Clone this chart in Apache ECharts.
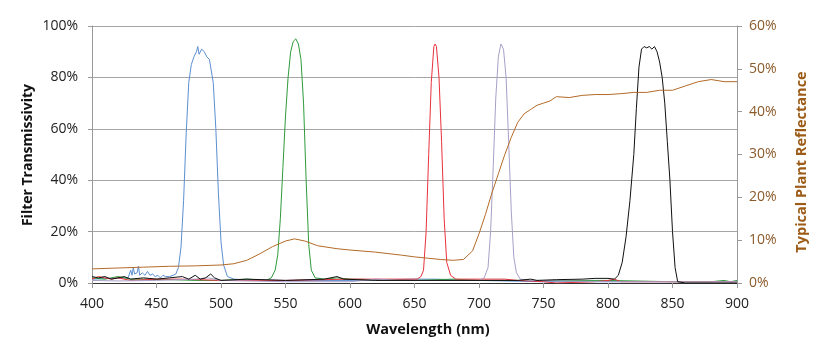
<!DOCTYPE html>
<html><head><meta charset="utf-8">
<script src="https://cdn.jsdelivr.net/npm/echarts@6/dist/echarts.min.js"></script>
<style>html,body{margin:0;padding:0;background:#fff}#c{width:840px;height:357px}</style>
</head><body><div id="c"></div>
<script>
const xTicks = [400,450,500,550,600,650,700,750,800,850,900];
const leftTicks = ['0%','20%','40%','60%','80%','100%'];
const rightTicks = ['0%','10%','20%','30%','40%','50%','60%'];

const blueFilter = [[400,1.5],[428,2],[430,5],[431,3],[432,6],[433,3.5],[435,4],[436,6.5],[437,3],[439,4],[441,3],[443,4.5],[445,3],[447,3.5],[449,2.5],[451,3],[453,2],[455,3],[457,2.5],[460,2.5],[463,3],[465,3.5],[467,6],[469,14],[471,32],[473,58],[475,78],[477,85],[479,88],[481,90],[482,92],[483,89],[485,91],[487,90],[489,88],[491,87],[492,84],[494,78],[496,60],[498,35],[500,16],[502,7],[505,2.5],[510,1.5],[520,1.2],[550,1],[600,1],[650,1.5],[665,1.5],[700,1],[750,0.5],[800,0.5],[900,0.5]];
const greenFilter = [[400,2],[410,1.5],[420,2.5],[430,1.5],[450,1.5],[480,1],[500,1],[520,1.5],[535,1],[539,2],[542,5],[544,11],[546,25],[548,45],[550,65],[552,80],[554,90],[556,94],[558,95],[560,93],[562,87],[564,70],[566,40],[568,15],[570,5],[573,2],[580,1.5],[590,2],[600,1.5],[650,1],[680,1.5],[700,1],[800,1],[850,0.5],[880,0.5],[890,1],[895,0.5],[900,1]];
const redFilter = [[400,1.5],[405,2.5],[410,2],[415,1.5],[420,2],[430,1],[450,1.5],[470,1.5],[500,1],[550,1],[600,1.5],[640,1.5],[652,1.5],[655,2.5],[657,5],[659,20],[661,50],[663,78],[665,92],[666,93],[667,92],[669,80],[671,55],[673,25],[675,8],[678,3],[682,1.5],[700,1.5],[720,1.5],[730,1],[750,0.5],[760,0],[790,0.5],[800,1],[805,1.5],[810,0.5],[900,0.5]];
const lavenderFilter = [[400,1],[420,0.8],[450,1],[480,1.5],[490,2],[500,1],[550,0.5],[600,0.5],[620,1.5],[640,1],[700,1],[704,2],[707,6],[709,20],[711,45],[713,72],[715,88],[717,93],[719,91],[721,80],[723,55],[725,28],[727,10],[729,4],[732,1.5],[740,1],[800,0.5],[900,0.5]];
const blackFilter = [[400,2.5],[405,2],[410,2.5],[415,1.5],[420,2],[425,2.5],[430,1.5],[440,2],[450,1.5],[460,2],[470,2.5],[475,1.5],[480,3],[484,1.5],[488,2],[492,3.5],[495,2],[500,1],[520,1.5],[550,1],[580,1.5],[590,2.5],[595,1.5],[620,1],[700,1],[730,1],[740,1.5],[745,1],[760,1.3],[780,1.5],[790,1.8],[800,1.8],[805,1.5],[808,3],[811,8],[814,18],[817,32],[820,50],[822,68],[824,84],[826,91],[828,92],[830,91.5],[832,92],[834,91],[836,92],[838,90],[840,86],[842,80],[844,70],[846,55],[848,40],[850,20],[852,6],[854,0.5],[860,0],[900,0]];
const plantReflectance = [[400,3.3],[420,3.5],[440,3.7],[460,3.9],[480,4.0],[500,4.2],[510,4.5],[520,5.3],[530,6.8],[540,8.5],[550,9.8],[557,10.3],[565,9.8],[575,8.7],[590,8.0],[600,7.7],[620,7.2],[640,6.5],[650,6.1],[660,5.8],[670,5.5],[680,5.3],[688,5.5],[695,7.5],[700,11.5],[705,16],[710,21],[715,25.5],[720,30],[725,34],[730,37.5],[735,39.5],[740,40.5],[745,41.5],[750,42],[755,42.5],[760,43.5],[770,43.3],[780,43.8],[790,44],[800,44],[810,44.2],[820,44.5],[830,44.5],[840,45],[850,45],[860,46],[870,47],[880,47.5],[890,47],[900,47]];

const font = 'Open Sans';
const chart = echarts.init(document.getElementById('c'));
const line = (name, data, color, yi) => ({name, type:'line', data, yAxisIndex: yi||0, showSymbol:false, symbol:'none', lineStyle:{width:1, color}, itemStyle:{color}, z: 3, animation:false});
const title = (text, x, y, rot, size, color) => ({type:'text', x, y, rotation:rot, style:{text, fontFamily:font, fontSize:size, fontWeight:'bold', fill:color, textAlign:'center', textVerticalAlign:'middle'}});
chart.setOption({
  animation:false,
  grid:{left:92, right:103, top:26, bottom:74, containLabel:false},
  graphic:[
    title('Filter Transmissivity', 28, 155, Math.PI/2, 14, '#111'),
    title('Wavelength (nm)', 428, 330, 0, 14.5, '#111'),
    title('Typical Plant Reflectance', 802, 162, Math.PI/2, 14.5, '#9c5b17')
  ],
  xAxis:[{type:'value', min:400, max:900, interval:50,
    axisLine:{show:true, lineStyle:{color:'#999'}}, axisTick:{show:true, length:5, lineStyle:{color:'#999'}},
    axisLabel:{fontFamily:font, fontSize:14, color:'#222', margin:14, formatter:v=>xTicks.includes(v)?String(v):''},
    splitLine:{show:false}},
    {type:'value', position:'top', min:400, max:900, axisLine:{show:true, lineStyle:{color:'#333'}}, axisTick:{show:false}, axisLabel:{show:false}, splitLine:{show:false}}],
  yAxis:[{type:'value', min:0, max:100, interval:20,
    axisLine:{show:true, lineStyle:{color:'#999'}}, axisTick:{show:true, length:4, lineStyle:{color:'#999'}},
    axisLabel:{fontFamily:font, fontSize:14, color:'#222', margin:14, formatter:v=>leftTicks[v/20]},
    splitLine:{show:true, lineStyle:{color:'#a6a6a6', width:1}}},
    {type:'value', min:0, max:60, interval:10, position:'right',
    axisLine:{show:true, lineStyle:{color:'#999'}}, axisTick:{show:true, length:5, lineStyle:{color:'#999'}},
    axisLabel:{fontFamily:font, fontSize:14, color:'#8b5a2b', margin:12, formatter:v=>rightTicks[v/10]},
    splitLine:{show:false}}],
  series:[
    line('Blue', blueFilter, '#5b8fd0'),
    line('Green', greenFilter, '#2f9a3c'),
    line('Red', redFilter, '#e8323c'),
    line('NIR1', lavenderFilter, '#a99fc8'),
    line('NIR2', blackFilter, '#111111'),
    line('Plant', plantReflectance, '#b36a28', 1)
  ]
});
</script></body></html>
